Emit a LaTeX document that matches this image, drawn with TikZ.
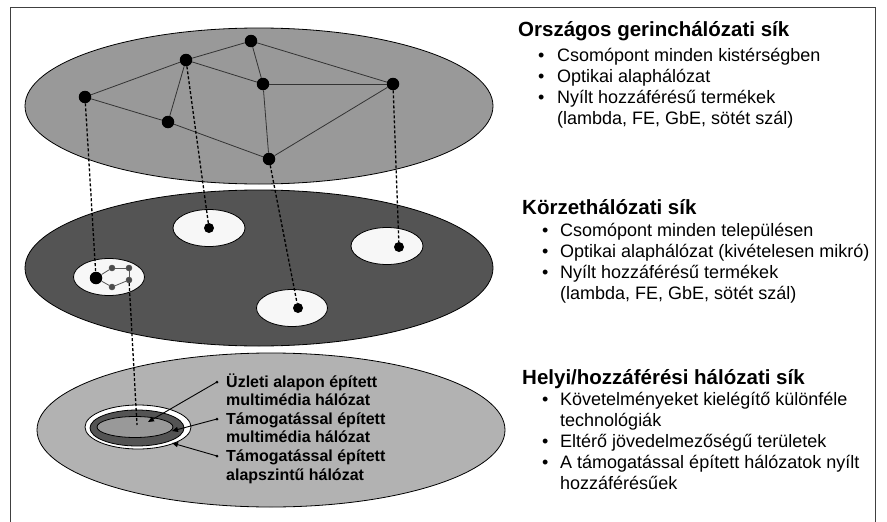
\documentclass[tikz,border=0pt]{standalone}
\usepackage{fontspec}
\setmainfont{Liberation Sans}
\usetikzlibrary{shapes.geometric,arrows.meta}
\definecolor{topgray}{gray}{0.60}
\definecolor{midgray}{gray}{0.33}
\definecolor{lowgray}{gray}{0.70}
\definecolor{holewhite}{gray}{0.97}
\begin{document}
\begin{tikzpicture}[x=1pt,y=-1pt,
 plane/.style={ellipse,draw=black,line width=0.8pt,inner sep=0pt},
 dot/.style={circle,fill=black,inner sep=0pt,minimum size=12.5pt},
 sdot/.style={circle,fill=black,inner sep=0pt,minimum size=10pt},
 tinydot/.style={circle,fill=gray!60!black,draw=black!70,line width=0.4pt,inner sep=0pt,minimum size=6pt},
 link/.style={draw=black!80,line width=0.8pt},
 minilink/.style={draw=gray!70!black,line width=0.8pt},
 drop/.style={draw=black,line width=1.3pt,dash pattern=on 3pt off 2pt},
 ttl/.style={anchor=base west,inner sep=0pt,font=\fontsize{20.5}{24}\selectfont\bfseries},
 txt/.style={anchor=base west,inner sep=0pt,font=\fontsize{18}{21}\selectfont},
 lab/.style={anchor=base west,inner sep=0pt,font=\fontsize{16}{19}\selectfont\bfseries},
 tail/.style={circle,fill=black,inner sep=0pt,minimum size=3pt},
 pointer/.style={draw=black,line width=0.9pt,-{Triangle[length=6pt,width=5pt]}}
]
\useasboundingbox (0,0) rectangle (887,522);
% frame (open at the bottom)
\draw[black!75,line width=1pt] (10,530) -- (10,7) -- (875,7) -- (875,530);

% planes
\node[plane,fill=topgray,minimum width=468pt,minimum height=156pt] (top) at (259,106) {};
\node[plane,fill=midgray,minimum width=468pt,minimum height=156pt] (mid) at (259,268) {};
\node[plane,fill=lowgray,minimum width=468pt,minimum height=154pt] (low) at (271,430) {};

% holes in the middle plane
\node[plane,fill=holewhite,minimum width=72pt,minimum height=37pt] (h1) at (209,228) {};
\node[plane,fill=holewhite,minimum width=72pt,minimum height=37pt] (h2) at (387,246) {};
\node[plane,fill=holewhite,minimum width=71pt,minimum height=37pt] (h3) at (292,308) {};
\node[plane,fill=holewhite,minimum width=71pt,minimum height=37pt] (h4) at (109,277) {};

% rings in the lower plane
\node[plane,fill=white,minimum width=106pt,minimum height=44pt] (r1) at (138,427) {};
\node[plane,fill=midgray,minimum width=94pt,minimum height=36pt] (r2) at (137,428) {};
\node[plane,fill=topgray,minimum width=76pt,minimum height=21pt] (r3) at (135,427) {};

% backbone nodes
\node[dot] (A) at (85,97) {};
\node[dot] (B) at (186,60) {};
\node[dot] (C) at (251,41) {};
\node[dot] (D) at (263,84) {};
\node[dot] (E) at (393,84) {};
\node[dot] (F) at (168,122) {};
\node[dot] (G) at (269,159) {};
\draw[link] (A) -- (B);
\draw[link] (A) -- (F);
\draw[link] (B) -- (F);
\draw[link] (B) -- (C);
\draw[link] (B) -- (D);
\draw[link] (C) -- (D);
\draw[link] (C) -- (E);
\draw[link] (D) -- (E);
\draw[link] (D) -- (G);
\draw[link] (F) -- (G);
\draw[link] (G) -- (E);

% regional nodes
\node[sdot] (s1) at (209,228) {};
\node[sdot] (s2) at (399,247) {};
\node[sdot] (s3) at (298,308) {};
\node[dot] (s4) at (96,278) {};
\node[tinydot] (m1) at (112,268) {};
\node[tinydot] (m2) at (129,268) {};
\node[tinydot] (m3) at (129,280) {};
\node[tinydot] (m4) at (112,287) {};
\draw[minilink] (s4) -- (m1);
\draw[minilink] (m1) -- (m2);
\draw[minilink] (m2) -- (m3);
\draw[minilink] (m3) -- (m4);
\draw[minilink] (m4) -- (s4);

% vertical dashed drops
\coordinate (ringc) at (137,425);
\draw[drop] (A) -- (s4);
\draw[drop] (B) -- (s1);
\draw[drop] (G) -- (s3);
\draw[drop] (E) -- (s2);
\draw[drop] (m3) -- (ringc);

% labels of the rings
\node[lab] (l1a) at (226,387) {Üzleti alapon épített};
\node[lab] (l1b) at (226,405.6) {multimédia hálózat};
\node[lab] (l2a) at (226,424.2) {Támogatással épített};
\node[lab] (l2b) at (226,442.8) {multimédia hálózat};
\node[lab] (l3a) at (226,461.4) {Támogatással épített};
\node[lab] (l3b) at (226,480) {alapszintű hálózat};
\node[tail] (p1) at (217,382) {};
\node[tail] (p2) at (217,419) {};
\node[tail] (p3) at (217,456) {};
\coordinate (q1) at (148,422);
\coordinate (q2) at (172,431);
\coordinate (q3) at (172,443);
\draw[pointer] (p1.center) -- (q1);
\draw[pointer] (p2.center) -- (q2);
\draw[pointer] (p3.center) -- (q3);

% right-hand texts
\node[ttl] (T1) at (518,36) {Országos gerinchálózati sík};
\node[txt] (b11) at (538,61) {•};
\node[txt] (t11) at (557,61) {Csomópont minden kistérségben};
\node[txt] (b12) at (538,82) {•};
\node[txt] (t12) at (557,82) {Optikai alaphálózat};
\node[txt] (b13) at (538,103) {•};
\node[txt] (t13) at (557,103) {Nyílt hozzáférésű termékek};
\node[txt] (t14) at (557,124) {(lambda, FE, GbE, sötét szál)};

\node[ttl] (T2) at (522,214) {Körzethálózati sík};
\node[txt] (b21) at (542,236) {•};
\node[txt] (t21) at (560,236) {Csomópont minden településen};
\node[txt] (b22) at (542,257) {•};
\node[txt] (t22) at (560,257) {Optikai alaphálózat (kivételesen mikró)};
\node[txt] (b23) at (542,278) {•};
\node[txt] (t23) at (560,278) {Nyílt hozzáférésű termékek};
\node[txt] (t24) at (560,299) {(lambda, FE, GbE, sötét szál)};

\node[ttl] (T3) at (522,384) {Helyi/hozzáférési hálózati sík};
\node[txt] (b31) at (542,405) {•};
\node[txt] (t31) at (560,405) {Követelményeket kielégítő különféle};
\node[txt] (t32) at (560,426) {technológiák};
\node[txt] (b33) at (542,447) {•};
\node[txt] (t33) at (560,447) {Eltérő jövedelmezőségű területek};
\node[txt] (b34) at (542,468) {•};
\node[txt] (t34) at (560,468) {A támogatással épített hálózatok nyílt};
\node[txt] (t35) at (560,489) {hozzáférésűek};
\end{tikzpicture}
\end{document}
